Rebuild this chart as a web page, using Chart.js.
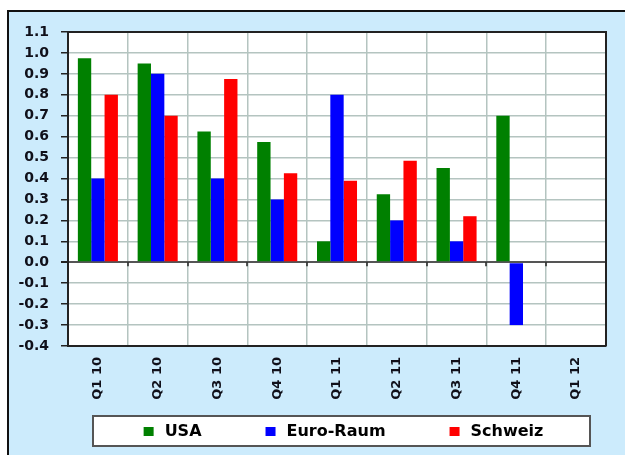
<!DOCTYPE html>
<html>
<head>
<meta charset="utf-8">
<script src="https://cdn.jsdelivr.net/npm/chart.js@4.4.0/dist/chart.umd.min.js"></script>
<style>
  html, body { margin: 0; padding: 0; background: #fff; overflow: hidden; }
  #frame { position: absolute; left: 7px; top: 10px; width: 900px; height: 900px;
           background: #CCEBFC; border-left: 2px solid #111; border-top: 2px solid #111; }
  #wrap { position: absolute; left: 0; top: 0; width: 625px; height: 455px; }
</style>
</head>
<body>
<div id="frame"></div>
<div id="wrap"><canvas id="myChart"></canvas></div>
<script>
// Quartale
var labels = ['Q1 10', 'Q2 10', 'Q3 10', 'Q4 10', 'Q1 11', 'Q2 11', 'Q3 11', 'Q4 11', 'Q1 12'];
var usa = [0.975, 0.95, 0.625, 0.575, 0.1, 0.325, 0.45, 0.7, null];
var euroRaum = [0.4, 0.9, 0.4, 0.3, 0.8, 0.2, 0.1, -0.3, null];
var schweiz = [0.8, 0.7, 0.875, 0.425, 0.39, 0.485, 0.22, null, null];
var yMin = -0.4, yMax = 1.1, yStep = 0.1;

var FONT = 'DejaVu Sans';

// weisser Hintergrund, Rahmen, Nulllinie-Ticks, Legende
var extras = {
  id: 'extras',
  beforeDraw: function (chart) {
    var c = chart.ctx, a = chart.chartArea;
    c.save();
    c.fillStyle = '#fff';
    c.fillRect(a.left, a.top, a.right - a.left, a.bottom - a.top);
    c.restore();
  },
  afterDraw: function (chart) {
    var c = chart.ctx, a = chart.chartArea;
    var x = chart.scales.x, y = chart.scales.y;
    c.save();
    // Rahmen oben/rechts
    c.strokeStyle = '#222';
    c.lineWidth = 2;
    c.beginPath();
    c.moveTo(a.left, a.top); c.lineTo(a.right, a.top); c.lineTo(a.right, a.bottom);
    c.stroke();
    // kleine Ticks an der Nulllinie
    var y0 = y.getPixelForValue(0);
    c.lineWidth = 1.5;
    c.beginPath();
    for (var i = 1; i < labels.length; i++) {
      var xp = Math.round((x.getPixelForValue(i - 1) + x.getPixelForValue(i)) / 2);
      c.moveTo(xp, y0); c.lineTo(xp, y0 + 4);
    }
    c.stroke();

    // Legende
    var bx = a.left + 25, by = 416, bw = a.right - a.left - 41, bh = 30;
    c.fillStyle = '#fff';
    c.fillRect(bx, by, bw, bh);
    c.strokeStyle = '#555';
    c.lineWidth = 2;
    c.strokeRect(bx, by, bw, bh);
    c.font = 'bold 16px "' + FONT + '"';
    var ds = chart.data.datasets;
    var widths = ds.map(function (d) { return 10 + 11 + c.measureText(d.label).width; });
    var gap = 64;
    var total = widths.reduce(function (s, w) { return s + w; }, 0) + gap * (ds.length - 1);
    var lx = bx + bw / 2 + 2 - total / 2;
    var cy = by + bh / 2 + 1;
    c.textBaseline = 'middle';
    ds.forEach(function (d, i) {
      c.fillStyle = d.backgroundColor;
      c.fillRect(lx, cy - 5, 10, 9);
      c.fillStyle = '#000';
      c.fillText(d.label, lx + 21, cy);
      lx += widths[i] + gap;
    });
    c.restore();
  }
};

var ctx = document.getElementById('myChart');
var myChart = new Chart(ctx, {
  type: 'bar',
  data: {
    labels: labels,
    datasets: [
      { label: 'USA', data: usa, backgroundColor: '#008000' },
      { label: 'Euro-Raum', data: euroRaum, backgroundColor: '#0000FF' },
      { label: 'Schweiz', data: schweiz, backgroundColor: '#FF0000' }
    ]
  },
  options: {
    responsive: true,
    maintainAspectRatio: false,
    animation: false,
    categoryPercentage: 0.67,
    barPercentage: 1.0,
    layout: { padding: { left: 0, top: 32, right: 19, bottom: 49 } },
    plugins: {
      legend: { display: false },
      tooltip: { enabled: false }
    },
    scales: {
      x: {
        afterFit: function (s) { s.height = 60; },
        grid: { color: '#B4C4C0', lineWidth: 1.5, drawTicks: false, offset: true },
        border: { color: '#222', width: 2 },
        ticks: {
          color: '#10101a',
          font: { family: FONT, size: 13, weight: 'bold' },
          minRotation: 90, maxRotation: 90,
          padding: 11
        }
      },
      y: {
        min: yMin,
        max: yMax,
        afterFit: function (s) { s.width = 68; },
        grid: {
          color: function (c) { return c.tick && Math.abs(c.tick.value) < 1e-9 ? '#555' : '#B4C4C0'; },
          lineWidth: function (c) { return c.tick && Math.abs(c.tick.value) < 1e-9 ? 2 : 1.5; },
          tickColor: '#222',
          tickLength: 7
        },
        border: { color: '#222', width: 2 },
        ticks: {
          stepSize: yStep,
          color: '#10101a',
          padding: 12,
          font: { family: FONT, size: 14, weight: 'bold' },
          callback: function (v) { return (Math.abs(v) < 1e-9 ? 0 : v).toFixed(1); }
        }
      }
    }
  },
  plugins: [extras]
});
</script>
</body>
</html>
